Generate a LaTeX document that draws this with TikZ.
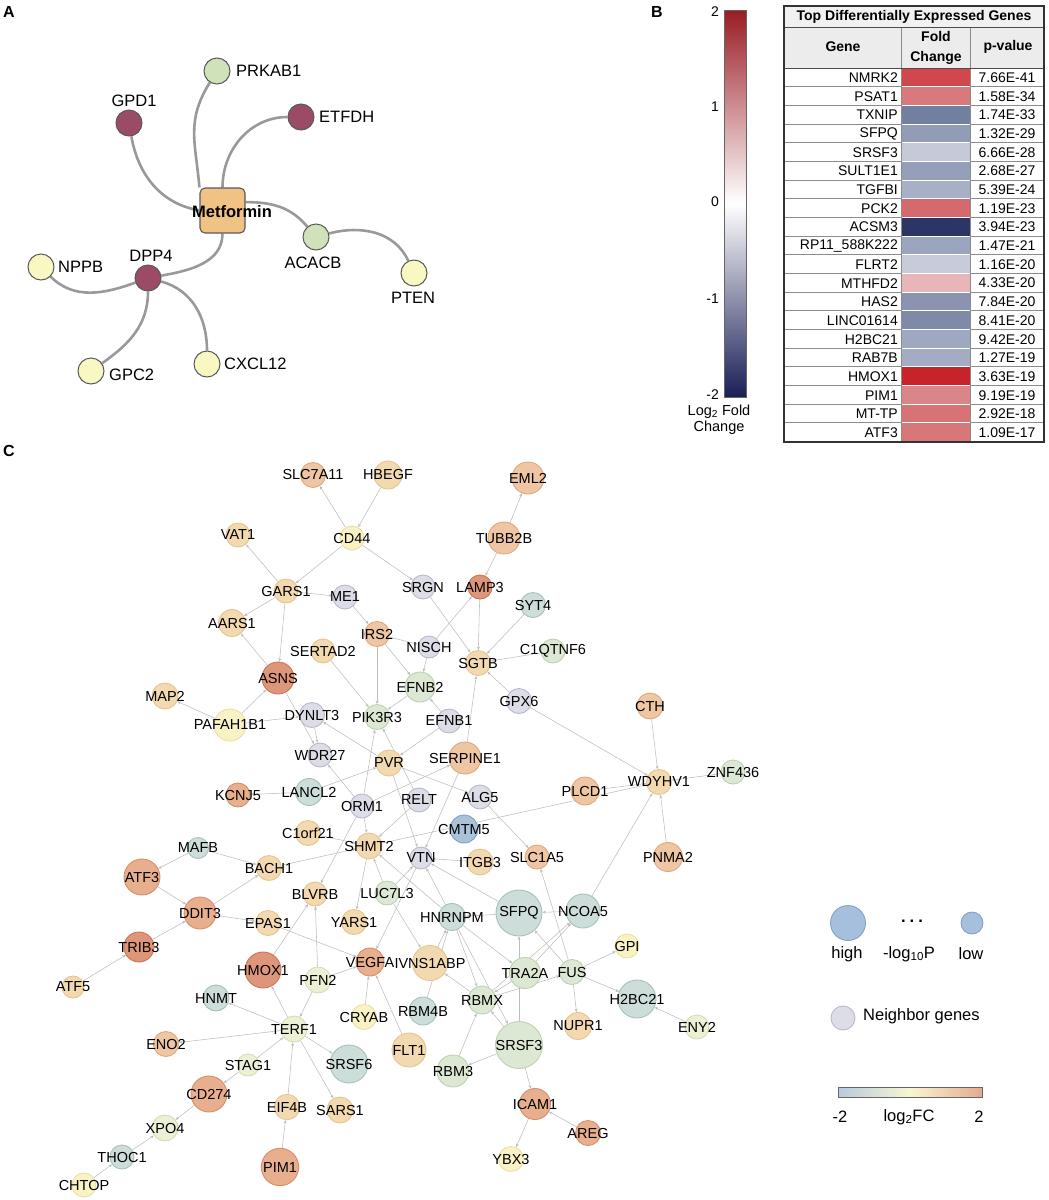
\documentclass[tikz,border=0pt]{standalone}
\usepackage{fontspec}
\setmainfont{Liberation Sans}
\usetikzlibrary{arrows.meta}
\pgfdeclarelayer{edges}
\pgfsetlayers{edges,main}

\definecolor{drugc}{HTML}{F0C284}
\definecolor{agreen}{HTML}{CFE2B9}
\definecolor{amauve}{HTML}{9C4B66}
\definecolor{ayellow}{HTML}{FAF8C2}
\definecolor{cbtop}{HTML}{9A1C24}
\definecolor{cbbot}{HTML}{1A1E56}
\definecolor{tabtitle}{HTML}{F1F1F1}
\definecolor{tabhead}{HTML}{ECECEC}
\definecolor{linkc}{HTML}{BDBDBD}
\definecolor{hif}{HTML}{DE967B}\definecolor{hid}{HTML}{C97552}
\definecolor{orf}{HTML}{E8AF8F}\definecolor{ord}{HTML}{D68E68}
\definecolor{lof}{HTML}{EEC6A3}\definecolor{lod}{HTML}{E0A87C}
\definecolor{tnf}{HTML}{F3D9B0}\definecolor{tnd}{HTML}{E6C48E}
\definecolor{pyf}{HTML}{F8F2C4}\definecolor{pyd}{HTML}{ECDFA2}
\definecolor{pvf}{HTML}{ECF0D5}\definecolor{pvd}{HTML}{D5DDB6}
\definecolor{lgf}{HTML}{DDE8D4}\definecolor{lgd}{HTML}{BDD1B1}
\definecolor{ggf}{HTML}{CDDDD9}\definecolor{ggd}{HTML}{A7C1BC}
\definecolor{blf}{HTML}{A9C2D9}\definecolor{bld}{HTML}{7FA0C2}
\definecolor{ngf}{HTML}{DCDDE6}\definecolor{ngd}{HTML}{B7B9CA}
\definecolor{legf}{HTML}{A6BFDC}\definecolor{legd}{HTML}{7E9DC4}
\definecolor{fcL}{HTML}{B6CADF}\definecolor{fcM}{HTML}{F8F6D2}\definecolor{fcR}{HTML}{E5A98F}

\definecolor{fc1}{HTML}{D0484D}\definecolor{fc2}{HTML}{D8797C}
\definecolor{fc3}{HTML}{717FA0}\definecolor{fc4}{HTML}{929CB7}
\definecolor{fc5}{HTML}{C6CAD8}\definecolor{fc6}{HTML}{959FBA}
\definecolor{fc7}{HTML}{A8B0C7}\definecolor{fc8}{HTML}{D46A6E}
\definecolor{fc9}{HTML}{2C3666}\definecolor{fc10}{HTML}{9CA5BF}
\definecolor{fc11}{HTML}{C8CCDA}\definecolor{fc12}{HTML}{E8B6B8}
\definecolor{fc13}{HTML}{8A94B1}\definecolor{fc14}{HTML}{7F8AA9}
\definecolor{fc15}{HTML}{9FA8C1}\definecolor{fc16}{HTML}{A4ACC4}
\definecolor{fc17}{HTML}{C6242A}\definecolor{fc18}{HTML}{DA8588}
\definecolor{fc19}{HTML}{D77376}\definecolor{fc20}{HTML}{D7777A}

\def\genes{SLC7A11/313/475/lo/12.5, HBEGF/388/475/tn/14, EML2/528/478/lo/16,
VAT1/238/535/tn/12, CD44/352/538/py/12, TUBB2B/504/538/lo/16,
GARS1/286/591/tn/12, ME1/345/597/ng/12, SRGN/423/587/ng/12,
LAMP3/480/587/hi/12, SYT4/533/605/gg/12.5, AARS1/232/623/tn/13.5,
IRS2/377/634/lo/12.5, SERTAD2/323/651/tn/12, NISCH/429/647/ng/11,
SGTB/478/663/tn/12.5, C1QTNF6/553/651/lg/12, ASNS/278/678/hi/16,
EFNB2/420/687/lg/15, MAP2/165/696/tn/13, GPX6/519/701/ng/12.5,
CTH/650/706/lo/13, PAFAH1B1/230/725/py/16, DYNLT3/312/715/ng/12.5,
PIK3R3/377/717/lg/12.5, EFNB1/449/721/ng/12, WDR27/320/755/ng/12,
PVR/389/763/tn/13, SERPINE1/465/758/lo/16, ZNF436/733/772/lg/12,
KCNJ5/238/795/or/12, LANCL2/309/792/gg/13.5, ORM1/362/806/ng/12,
RELT/419/800/ng/12, ALG5/480/797/ng/12, PLCD1/585/791/lo/14,
WDYHV1/659/782/tn/12.5, CMTM5/464/829/bl/14, C1orf21/308/833/tn/12.5,
MAFB/198/848/gg/10.5, SHMT2/369/846/tn/13, VTN/421/858/ng/11,
ITGB3/480/862/tn/13, SLC1A5/537/857/lo/12, PNMA2/668/857/lo/14.5,
ATF3/142/877/or/18, BACH1/269/868/tn/12.5, BLVRB/315/894/tn/12,
LUC7L3/387/893/lg/12, DDIT3/200/913/or/16, EPAS1/268/923/tn/12.5,
YARS1/354/922/tn/12.5, HNRNPM/452/917/gg/13.5, SFPQ/519/913/gg/23,
NCOA5/583/911/gg/17, TRIB3/139/947/hi/15, HMOX1/263/970/hi/18,
VEGFA/370/962/or/14, IVNS1ABP/430/963/tn/17.5, PFN2/318/980/pv/13,
TRA2A/525/973/lg/15.5, FUS/572/972/lg/12.5, GPI/627/946/py/12,
H2BC21/637/999/gg/19, ATF5/73/987/tn/11, HNMT/216/998/gg/13,
CRYAB/364/1017/py/12.5, RBM4B/423/1011/gg/14, RBMX/482/1000/lg/14,
NUPR1/578/1026/tn/13.5, ENY2/697/1027/pv/12, TERF1/294/1029/pv/13,
ENO2/166/1044/lo/12.5, FLT1/409/1050/tn/17, SRSF3/519/1045/lg/23.5,
STAG1/248/1065/pv/11, SRSF6/349/1064/gg/19, CD274/209/1094/or/18,
EIF4B/287/1107/tn/12.7, SARS1/340/1110/tn/13, RBM3/453/1071/lg/16,
ICAM1/535/1104/or/15.5, AREG/588/1133/or/12.5, XPO4/165/1128/pv/13,
PIM1/280/1167/or/18.7, THOC1/122/1157/gg/12, YBX3/511/1159/py/12.5,
CHTOP/84/1185/py/12}

\begin{document}
\begin{tikzpicture}[x=1pt, y=-1pt,
    every node/.style={inner sep=0pt, font=\fontsize{14}{16}\selectfont},
    plab/.style={font=\fontsize{16}{18}\selectfont\bfseries},
    drug/.style={draw=black!65, fill=drugc, rounded corners=5pt, line width=1.1pt, minimum size=45pt},
    pnode/.style={circle, draw=black!65, fill=#1, line width=1pt, minimum size=26pt},
    alab/.style={font=\fontsize{16.5}{18}\selectfont},
    aedge/.style={draw=black!40, line width=2.6pt},
    gene/.style={circle, draw=#1d, fill=#1f, line width=0.9pt},
    glab/.style={font=\fontsize{14.5}{16}\selectfont},
    link/.style={draw=linkc, line width=0.55pt, -{Stealth[length=3.5pt, width=3pt]}},
    tabline/.style={draw=black!45, line width=0.5pt},
    bold/.style={font=\fontsize{14}{20}\selectfont\bfseries},
    leg/.style={font=\fontsize{16.5}{18}\selectfont},
  ]
  \useasboundingbox (0,0) rectangle (1049,1200);

  \node[plab] (pa) at (9,12) {A};
  \node[plab] (pb) at (657,12) {B};
  \node[plab] (pc) at (9,451) {C};

  % A
  \node[drug] (met) at (222.5,210.5) {};
  \node[pnode=agreen] (prkab1) at (217,71) {};
  \node[pnode=amauve] (gpd1) at (129,123) {};
  \node[pnode=amauve] (etfdh) at (301,117) {};
  \node[pnode=agreen] (acacb) at (316,237) {};
  \node[pnode=ayellow] (pten) at (414,273) {};
  \node[pnode=amauve] (dpp4) at (148,278) {};
  \node[pnode=ayellow] (nppb) at (41,267) {};
  \node[pnode=ayellow] (gpc2) at (91,371) {};
  \node[pnode=ayellow] (cxcl12) at (207,364) {};

  \node[font=\fontsize{16.5}{18}\selectfont\bfseries] (met-t) at (232,212) {Metformin};
  \node[alab, anchor=west] (prkab1-t) at (236,71) {PRKAB1};
  \node[alab] (gpd1-t) at (134,101) {GPD1};
  \node[alab, anchor=west] (etfdh-t) at (319,117) {ETFDH};
  \node[alab] (acacb-t) at (313,263) {ACACB};
  \node[alab] (pten-t) at (413,298) {PTEN};
  \node[alab] (dpp4-t) at (151,256) {DPP4};
  \node[alab, anchor=west] (nppb-t) at (58,267) {NPPB};
  \node[alab, anchor=west] (gpc2-t) at (109,375) {GPC2};
  \node[alab, anchor=west] (cxcl12-t) at (224,364) {CXCL12};

  \begin{pgfonlayer}{edges}
    \draw[aedge] (gpd1) to[out=-80, in=170] (met.west);
    \draw[aedge] (prkab1) to[out=-122, in=95, looseness=1.1] (met.north west);
    \draw[aedge] (etfdh) to[out=180, in=90] (met.north);
    \draw[aedge] (met.20) to[out=0, in=130] (acacb);
    \draw[aedge] (acacb) to[out=15, in=115] (pten);
    \draw[aedge] (met.south) to[out=-90, in=10] (dpp4);
    \draw[aedge] (nppb) to[out=-45, in=200] (dpp4);
    \draw[aedge] (dpp4) to[out=-90, in=35] (gpc2);
    \draw[aedge] (dpp4) to[out=-15, in=90] (cxcl12);
  \end{pgfonlayer}

  % B
  \node[draw=black!60, line width=0.6pt, minimum width=22pt, minimum height=387pt,
    top color=cbtop, bottom color=cbbot, middle color=white] (cbar) at (735,203.5) {};
  \foreach \v/\yy in {2/12, 1/107, 0/202, -1/299, -2/395}
    \node[anchor=east] (tk\v) at (719,\yy) {\v};
  \node[align=center, font=\fontsize{14.5}{16}\selectfont] (cblab) at (719,420) {Log\textsubscript{2} Fold\\Change};

  \fill[tabtitle] (784,6) rectangle (1044,27);
  \fill[tabhead] (784,27) rectangle (1044,68);
  \foreach \i in {1,...,19}
    \draw[tabline] (784,68+18.67*\i) -- (1044,68+18.67*\i);
  \foreach \g/\p [count=\i] in {NMRK2/7.66E-41, PSAT1/1.58E-34, TXNIP/1.74E-33, SFPQ/1.32E-29,
      SRSF3/6.66E-28, SULT1E1/2.68E-27, TGFBI/5.39E-24, PCK2/1.19E-23, ACSM3/3.94E-23,
      RP11\_588K222/1.47E-21, FLRT2/1.16E-20, MTHFD2/4.33E-20, HAS2/7.84E-20,
      LINC01614/8.41E-20, H2BC21/9.42E-20, RAB7B/1.27E-19, HMOX1/3.63E-19, PIM1/9.19E-19,
      MT-TP/2.92E-18, ATF3/1.09E-17} {
    \pgfmathsetmacro\yt{68+18.67*(\i-1)}
    \filldraw[fill=fc\i, draw=white, line width=0.8pt] (901,\yt) rectangle (970,\yt+18.67);
    \node[anchor=east] (g\i) at (898,\yt+9.8) {\g};
    \node (p\i) at (1007,\yt+9.8) {\p};
  }
  \draw[tabline] (901,27) -- (901,442);
  \draw[tabline] (970,27) -- (970,442);
  \draw[draw=black!70, line width=0.8pt] (784,27) -- (1044,27);
  \draw[draw=black!70, line width=0.8pt] (784,68) -- (1044,68);
  \draw[draw=black!80, line width=1.3pt] (784,6) rectangle (1044,442);
  \node[bold] (ttl) at (914,17) {Top Differentially Expressed Genes};
  \node[bold] (hgene) at (843,47) {Gene};
  \node[bold, align=center] (hfc) at (936,48) {Fold\\Change};
  \node[bold] (hp) at (1008,47) {p-value};

  % C
  \foreach \n/\x/\y/\col/\rad in \genes
    \node[gene=\col, minimum size=2*\rad pt] (\n) at (\x,\y) {};
  \foreach \n/\x/\y/\col/\rad in \genes
    \node[glab] (\n-t) at (\n) {\n};

  \begin{pgfonlayer}{edges}
    \foreach \a/\b in {CD44/SLC7A11, HBEGF/CD44, CD44/GARS1, CD44/SRGN, GARS1/VAT1, GARS1/ME1,
        GARS1/AARS1, GARS1/ASNS, ASNS/AARS1, PAFAH1B1/ASNS, PAFAH1B1/MAP2, PAFAH1B1/DYNLT3,
        ME1/IRS2, IRS2/PIK3R3, SERTAD2/PIK3R3, ASNS/WDR27, IRS2/NISCH, IRS2/EFNB2,
        NISCH/LAMP3, NISCH/EFNB2, SRGN/SGTB, LAMP3/SGTB, TUBB2B/EML2, TUBB2B/LAMP3,
        SYT4/SGTB, C1QTNF6/SGTB, GPX6/SGTB, GPX6/WDYHV1, EFNB2/PIK3R3, EFNB1/EFNB2,
        EFNB1/PVR, SERPINE1/SGTB, ORM1/PIK3R3, RELT/PIK3R3, PVR/DYNLT3, DYNLT3/WDR27,
        ORM1/WDR27, LANCL2/KCNJ5, LANCL2/PVR, ORM1/SERPINE1, PVR/ALG5, PVR/VTN,
        RELT/SHMT2, ORM1/SHMT2, SERPINE1/VTN, ALG5/SLC1A5, ORM1/BLVRB, C1orf21/SHMT2,
        BACH1/SHMT2, SHMT2/YARS1, LUC7L3/SHMT2, SHMT2/WDYHV1, PLCD1/WDYHV1, ITGB3/VTN,
        SFPQ/VTN, HNRNPM/VTN, LUC7L3/VTN, HNRNPM/SHMT2, NCOA5/SFPQ, SFPQ/HNRNPM,
        NCOA5/WDYHV1, CTH/WDYHV1, PNMA2/WDYHV1, ZNF436/WDYHV1, FUS/SLC1A5, MAFB/ATF3,
        MAFB/BACH1, ATF3/DDIT3, DDIT3/BACH1, DDIT3/EPAS1, TRIB3/DDIT3, ATF5/TRIB3,
        EPAS1/VEGFA, HMOX1/BLVRB, PFN2/BLVRB, PFN2/VEGFA, PFN2/TERF1, TERF1/HMOX1,
        TERF1/HNMT, TERF1/ENO2, STAG1/TERF1, TERF1/SRSF6, TERF1/SARS1, EIF4B/TERF1,
        PIM1/EIF4B, STAG1/CD274, CD274/XPO4, THOC1/XPO4, CHTOP/THOC1, CRYAB/VEGFA,
        FLT1/VEGFA, IVNS1ABP/HNRNPM, RBM4B/HNRNPM, RBMX/IVNS1ABP, HNRNPM/RBMX,
        HNRNPM/TRA2A, HNRNPM/SRSF3, TRA2A/RBMX, SRSF3/RBMX, SRSF3/SFPQ, FUS/SFPQ,
        TRA2A/NCOA5, RBMX/NCOA5, FUS/GPI, FUS/H2BC21, FUS/NUPR1, ENY2/H2BC21, SRSF3/RBM3,
        RBM3/RBMX, SRSF3/ICAM1, AREG/ICAM1, ICAM1/YBX3, VTN/VEGFA, LUC7L3/IVNS1ABP,
        RBMX/FUS}
      \draw[link] (\a) -- (\b);
  \end{pgfonlayer}

  \node[circle, draw=legd, fill=legf, line width=0.8pt, minimum size=35pt] (lhigh) at (848,923) {};
  \node[leg] (ldots) at (912,921) {\bfseries .\hspace{4pt}.\hspace{4pt}.};
  \node[circle, draw=legd, fill=legf, line width=0.8pt, minimum size=22pt] (llow) at (972,923) {};
  \node[leg] (lhigh-t) at (847,954) {high};
  \node[leg] (lp-t) at (909,954) {-log\textsubscript{10}P};
  \node[leg] (llow-t) at (971,954) {low};
  \node[gene=ng, minimum size=24pt] (lnb) at (843,1018) {};
  \node[leg, anchor=west] (lnb-t) at (863,1016) {Neighbor genes};
  \node[draw=black!60, line width=0.6pt, minimum width=144pt, minimum height=10pt,
    left color=fcL, right color=fcR, middle color=fcM] (lfc) at (910,1092) {};
  \node[leg] (lfc-l) at (840,1117) {-2};
  \node[leg] (lfc-t) at (909,1117) {log\textsubscript{2}FC};
  \node[leg] (lfc-r) at (979,1117) {2};
\end{tikzpicture}
\end{document}
